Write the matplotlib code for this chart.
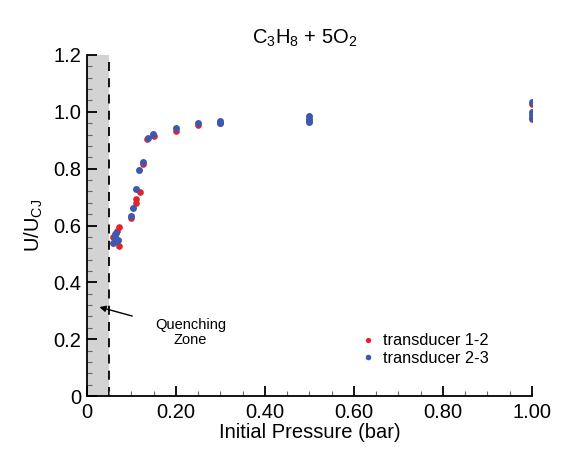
import numpy as np
import matplotlib
matplotlib.use('Agg')
import matplotlib.pyplot as plt
from matplotlib.ticker import MultipleLocator, FixedLocator

plt.rcParams['font.family'] = ['Liberation Sans', 'DejaVu Sans']
plt.rcParams['mathtext.default'] = 'regular'

# transducer 1-2 (red)
p_red = [0.058, 0.067, 0.073, 0.072, 0.063, 0.100, 0.110, 0.110, 0.119, 0.125,
         0.135, 0.150, 0.200, 0.250, 0.300, 0.500, 1.000, 1.000]
u_red = [0.560, 0.580, 0.595, 0.528, 0.545, 0.626, 0.680, 0.693, 0.718, 0.816,
         0.905, 0.915, 0.932, 0.955, 0.960, 0.968, 1.027, 0.975]
# transducer 2-3 (blue)
p_blue = [0.058, 0.062, 0.066, 0.070, 0.063, 0.068, 0.099, 0.103, 0.110, 0.117,
          0.125, 0.137, 0.149, 0.200, 0.250, 0.300, 0.300, 0.500, 0.500, 0.500,
          1.000, 1.000, 1.000, 1.000]
u_blue = [0.540, 0.560, 0.575, 0.550, 0.570, 0.545, 0.633, 0.660, 0.730, 0.795,
          0.825, 0.908, 0.922, 0.943, 0.960, 0.968, 0.960, 0.985, 0.975, 0.965,
          1.035, 1.000, 0.990, 0.980]

quench_limit = 0.05
xticks = [0, 0.2, 0.4, 0.6, 0.8, 1.0]
xlabels = ['0', '0.20', '0.40', '0.60', '0.80', '1.00']
yticks = [0, 0.2, 0.4, 0.6, 0.8, 1.0, 1.2]
ylabels = ['0', '0.2', '0.4', '0.6', '0.8', '1.0', '1.2']

fig = plt.figure(figsize=(5.67, 4.53), dpi=100)
ax = fig.add_axes([0.1534, 0.1258, 0.7848, 0.7528])

ax.axvspan(0, quench_limit, color='#d3d3d3', lw=0, zorder=0)
ax.axvline(quench_limit, color='k', ls=(0, (5, 4)), lw=1.3, zorder=1)

ax.plot(p_red, u_red, 'o', color='#e1232b', ms=4.8, mew=0, label='transducer 1-2', zorder=3)
ax.plot(p_blue, u_blue, 'o', color='#3d58ad', ms=5.0, mew=0, label='transducer 2-3', zorder=4)

ax.annotate('Quenching\nZone', xy=(0.028, 0.313), xytext=(0.233, 0.225),
            ha='center', va='center', fontsize=10.5, linespacing=1.1,
            arrowprops=dict(arrowstyle='-|>', color='k', lw=1, shrinkA=15,
                            shrinkB=0, mutation_scale=9))

ax.set_xlim(0, 1.0)
ax.set_ylim(0, 1.2)
ax.xaxis.set_major_locator(FixedLocator(xticks))
ax.set_xticklabels(xlabels)
ax.yaxis.set_major_locator(FixedLocator(yticks))
ax.set_yticklabels(ylabels)
ax.xaxis.set_minor_locator(MultipleLocator(0.05))
ax.yaxis.set_minor_locator(MultipleLocator(0.04))
ax.tick_params(which='both', direction='in', top=False, right=False, labelsize=14.5)
ax.tick_params(which='major', length=7, width=1.3)
ax.tick_params(which='minor', length=3.5, width=0.8, color='#666666')
ax.tick_params(axis='x', pad=5)
ax.tick_params(axis='y', pad=4)
ax.spines['right'].set_visible(False)
ax.spines['top'].set_visible(False)
ax.spines['left'].set_linewidth(1.3)
ax.spines['bottom'].set_linewidth(1.3)

ax.set_xlabel('Initial Pressure (bar)', fontsize=14.5, labelpad=1)
ax.set_ylabel('U/U$_{CJ}$', fontsize=14.5, labelpad=6)
ax.set_title('C$_3$H$_8$ + 5O$_2$', fontsize=14.5, x=0.49, pad=8)

ax.legend(loc='lower right', bbox_to_anchor=(0.935, 0.045), frameon=False, fontsize=11.8,
          handletextpad=0.4, labelspacing=0.15, handlelength=1.0, markerscale=0.8)

fig.savefig('out.png', dpi=100)
